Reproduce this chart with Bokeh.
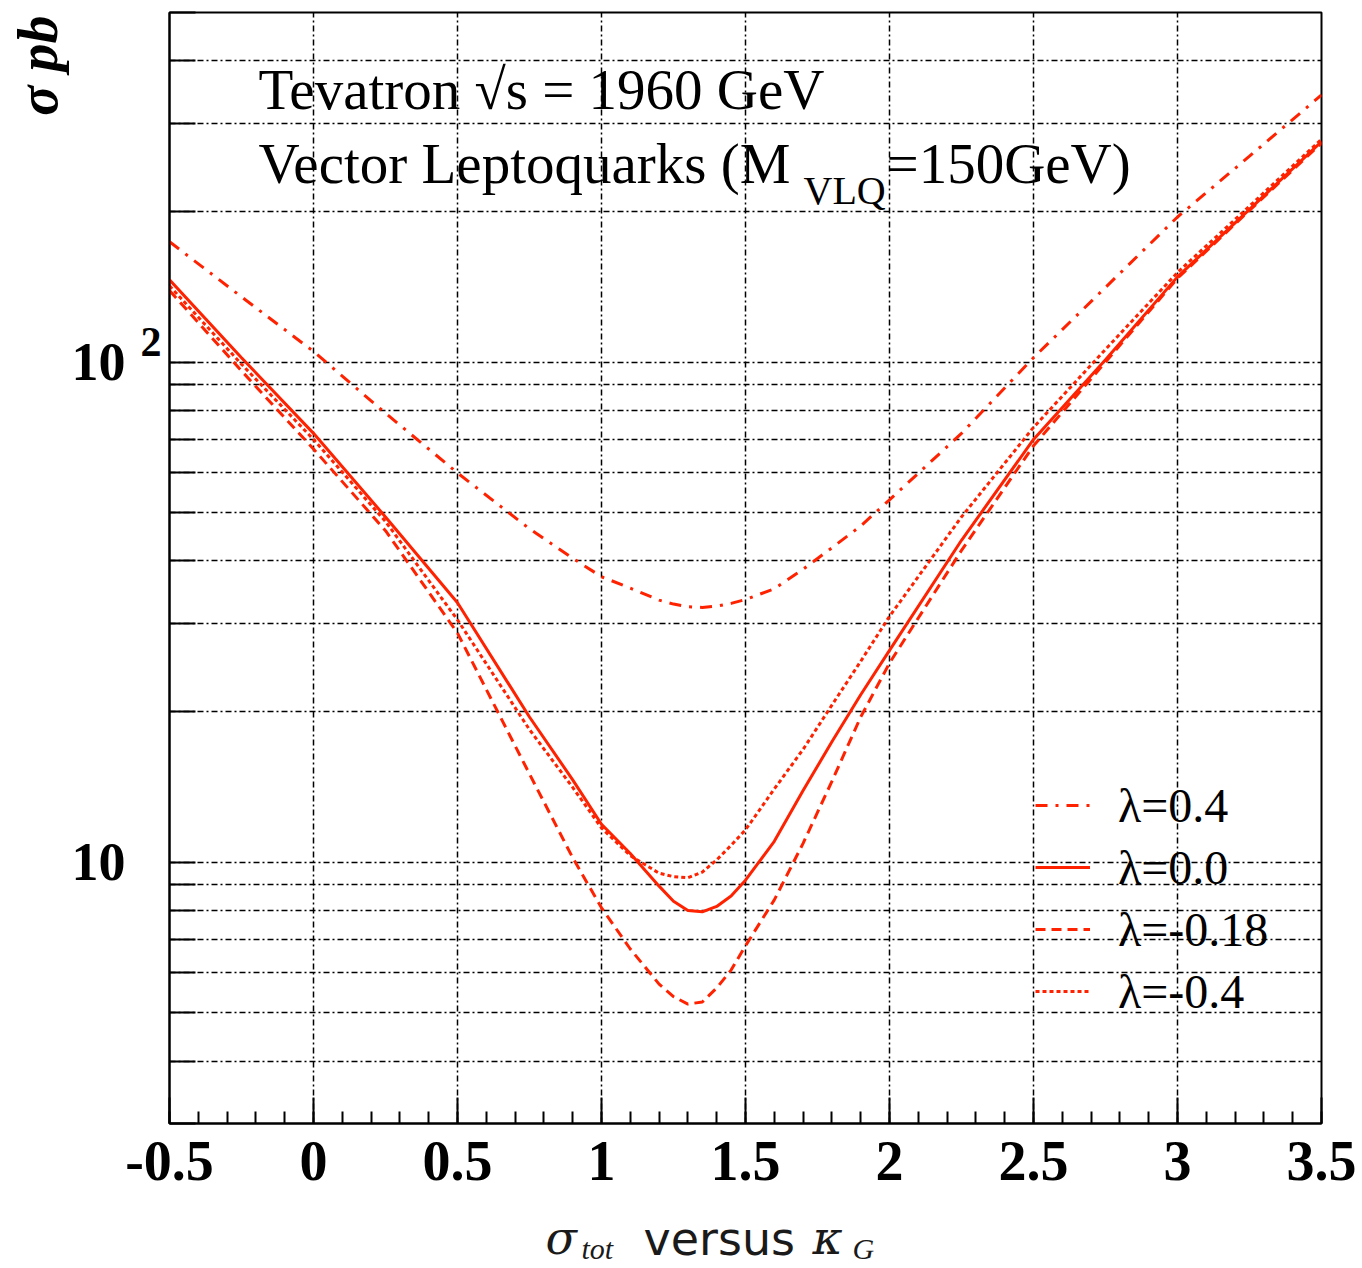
from bokeh.plotting import figure
from bokeh.layouts import column
from bokeh.models import FixedTicker, Label, Legend, LegendItem, LogAxis, Range1d, Title
from bokeh.embed import file_html
from bokeh.resources import INLINE

# kappa_G values where the cross sections are tabulated
kappa_g = [-0.5, -0.25, 0.0, 0.25, 0.5, 0.75, 0.9, 1.0, 1.1, 1.2, 1.25, 1.3, 1.35,
           1.4, 1.45, 1.5, 1.6, 1.7, 1.8, 1.9, 2.0, 2.25, 2.5, 2.75, 3.0, 3.25, 3.5]

# total cross section (pb) for each lambda
sigma_lam_p040 = [174, 135, 105, 79, 60, 46.4, 40.5, 37.2, 35.3, 33.4, 32.8, 32.4, 32.3,
                  32.5, 32.9, 33.5, 35.2, 38.5, 42.5, 47, 53, 72, 102, 141, 195, 258, 342]
sigma_lam_000 = [146, 102, 72, 49, 33, 19.5, 14.6, 11.9, 10.4, 8.95, 8.35, 8.0, 7.95,
                 8.15, 8.55, 9.2, 11.0, 13.9, 17.4, 21.6, 26.5, 44, 70, 101, 148, 202, 276]
sigma_lam_m018 = [139, 96, 67, 46, 28.7, 15.0, 10.2, 8.1, 6.7, 5.7, 5.38, 5.2, 5.25,
                  5.6, 6.08, 6.8, 8.4, 10.9, 14.5, 19.5, 25, 42, 68, 100, 147, 201, 274]
sigma_lam_m040 = [142, 99, 70, 48, 30.5, 18.4, 14.1, 11.7, 10.3, 9.5, 9.35, 9.3, 9.55,
                  10.1, 10.8, 11.6, 14.0, 16.8, 20.6, 25.2, 31, 49, 74, 106, 151, 205, 279]

legend_labels = ["λ=0.4", "λ=0.0", "λ=-0.18", "λ=-0.4"]

x_major = [-0.5, 0.0, 0.5, 1.0, 1.5, 2.0, 2.5, 3.0, 3.5]
x_tick_labels = ["-0.5", "0", "0.5", "1", "1.5", "2", "2.5", "3", "3.5"]
x_minor = [round(-0.5 + 0.1 * i, 1) for i in range(41)]
y_ticks = [3, 4, 5, 6, 7, 8, 9, 10, 20, 30, 40, 50, 60, 70, 80, 90, 100, 200, 300, 400, 500]
y_decades = {10.0: "10", 100.0: "10"}
y_exponent = {109.6: "2"}                 # exponent of the 10^2 label, set a little higher

RED = "#ff2200"
SERIF = "Liberation Serif"


def blank_axis(ax):
    ax.axis_line_color = None
    ax.major_tick_line_color = None
    ax.minor_tick_line_color = None
    ax.major_tick_in = 0
    ax.major_tick_out = 0
    ax.minor_tick_in = 0
    ax.minor_tick_out = 0
    ax.major_label_text_color = "black"
    ax.major_label_text_font = SERIF


p = figure(width=1362, height=1205, y_axis_type="log",
           x_range=Range1d(-0.5, 3.5), y_range=Range1d(3, 500),
           output_backend="svg", toolbar_location=None,
           min_border_left=169, min_border_right=41,
           min_border_top=12, min_border_bottom=82)
p.background_fill_color = "white"
p.border_fill_color = "white"
p.outline_line_color = "black"
p.outline_line_width = 2

# x axis: ticks point inward
xa = p.xaxis[0]
xa.ticker = FixedTicker(ticks=x_major, minor_ticks=x_minor)
xa.major_label_overrides = {float(v): s for v, s in zip(x_major, x_tick_labels)}
xa.major_tick_in = 26
xa.major_tick_out = 0
xa.minor_tick_in = 12
xa.minor_tick_out = 0
xa.major_tick_line_width = 2
xa.minor_tick_line_width = 2
xa.axis_line_width = 2
xa.major_label_text_font = SERIF
xa.major_label_text_font_style = "bold"
xa.major_label_text_font_size = "56px"
xa.major_label_text_color = "black"
xa.major_label_standoff = 18

# y axis line and ticks (labels come from the axes stacked outside it)
ya = p.yaxis[0]
ya.ticker = FixedTicker(ticks=y_ticks, minor_ticks=[])
ya.major_label_overrides = {float(v): "" for v in y_ticks}
ya.major_tick_in = 26
ya.major_tick_out = 0
ya.minor_tick_in = 0
ya.minor_tick_out = 0
ya.major_tick_line_width = 2
ya.axis_line_width = 2
ya.major_label_standoff = 0

# exponent "2" of 10^2
ax_exp = LogAxis(ticker=FixedTicker(ticks=list(y_exponent), minor_ticks=[]),
                 major_label_overrides=dict(y_exponent))
blank_axis(ax_exp)
ax_exp.major_label_text_font_style = "bold"
ax_exp.major_label_text_font_size = "42px"
ax_exp.major_label_standoff = 8
p.add_layout(ax_exp, "left")

# decade labels
ax_dec = LogAxis(ticker=FixedTicker(ticks=list(y_decades), minor_ticks=[]),
                 major_label_overrides=dict(y_decades))
blank_axis(ax_dec)
ax_dec.major_label_text_font_style = "bold"
ax_dec.major_label_text_font_size = "54px"
ax_dec.major_label_standoff = 12
p.add_layout(ax_dec, "left")

# y title at the top end of the axis
p.add_layout(Title(text="σ pb", align="right", text_font=SERIF,
                   text_font_style="bold italic", text_font_size="56px",
                   text_color="black", standoff=0, offset=3), "left")

# dashed-dotted grid
p.xgrid[0].ticker = FixedTicker(ticks=x_major[1:-1])
p.ygrid[0].ticker = FixedTicker(ticks=y_ticks[1:-1])
for g in (p.xgrid[0], p.ygrid[0]):
    g.grid_line_color = "black"
    g.grid_line_width = 1.5
    g.grid_line_dash = "6 3 2 3"

# curves
r_p040 = p.line(kappa_g, sigma_lam_p040, line_color=RED, line_width=3, line_dash="12 8 3 8")
r_000 = p.line(kappa_g, sigma_lam_000, line_color=RED, line_width=3)
r_m018 = p.line(kappa_g, sigma_lam_m018, line_color=RED, line_width=3, line_dash="10 6")
r_m040 = p.line(kappa_g, sigma_lam_m040, line_color=RED, line_width=3, line_dash="4 3")

legend = Legend(
    items=[LegendItem(label=lab, renderers=[r])
           for lab, r in zip(legend_labels, [r_p040, r_000, r_m018, r_m040])],
    location=(866, 101), padding=0, margin=0, spacing=0,
    glyph_width=55, glyph_height=62, label_height=62, label_standoff=28,
    label_text_font=SERIF, label_text_font_size="48px", label_text_color="black",
    background_fill_alpha=0, border_line_alpha=0,
)
p.add_layout(legend)

# header text
head = dict(x_units="screen", y_units="screen", text_font=SERIF,
            text_color="black", text_align="left", text_baseline="middle")
p.add_layout(Label(x=89, y=1034, text="Tevatron √s = 1960 GeV", text_font_size="57px", **head))
p.add_layout(Label(x=89, y=960, text="Vector Leptoquarks (M", text_font_size="57px", **head))
p.add_layout(Label(x=634, y=933, text="VLQ", text_font_size="40px", **head))
p.add_layout(Label(x=717, y=960, text="=150GeV)", text_font_size="57px", **head))

# x axis title strip (its frame lines up with the plot frame above)
t = figure(width=1362, height=63, x_range=Range1d(0, 1152), y_range=Range1d(0, 63),
           output_backend="svg", toolbar_location=None,
           x_axis_location=None, y_axis_location=None,
           min_border_left=0, min_border_right=0, min_border_top=0, min_border_bottom=0)
t.grid.visible = False
t.outline_line_color = None
t.background_fill_color = "white"
t.border_fill_color = "white"
xt = dict(x_units="screen", y_units="screen", text_color="#1a1a1a",
          text_align="left", text_baseline="middle")
t.add_layout(Label(x=376, y=31, text="σ", text_font="DejaVu Serif", text_font_style="italic",
                   text_font_size="46px", **xt))
t.add_layout(Label(x=412, y=20, text="tot", text_font=SERIF, text_font_style="italic",
                   text_font_size="30px", **xt))
t.add_layout(Label(x=474, y=30, text="versus", text_font="DejaVu Sans",
                   text_font_size="46px", **xt))
t.add_layout(Label(x=643, y=31, text="κ", text_font="DejaVu Serif", text_font_style="italic",
                   text_font_size="46px", **xt))
t.add_layout(Label(x=683, y=20, text="G", text_font=SERIF, text_font_style="italic",
                   text_font_size="30px", **xt))

layout = column(p, t, spacing=0)
open("out.html", "w").write(file_html(layout, INLINE))
